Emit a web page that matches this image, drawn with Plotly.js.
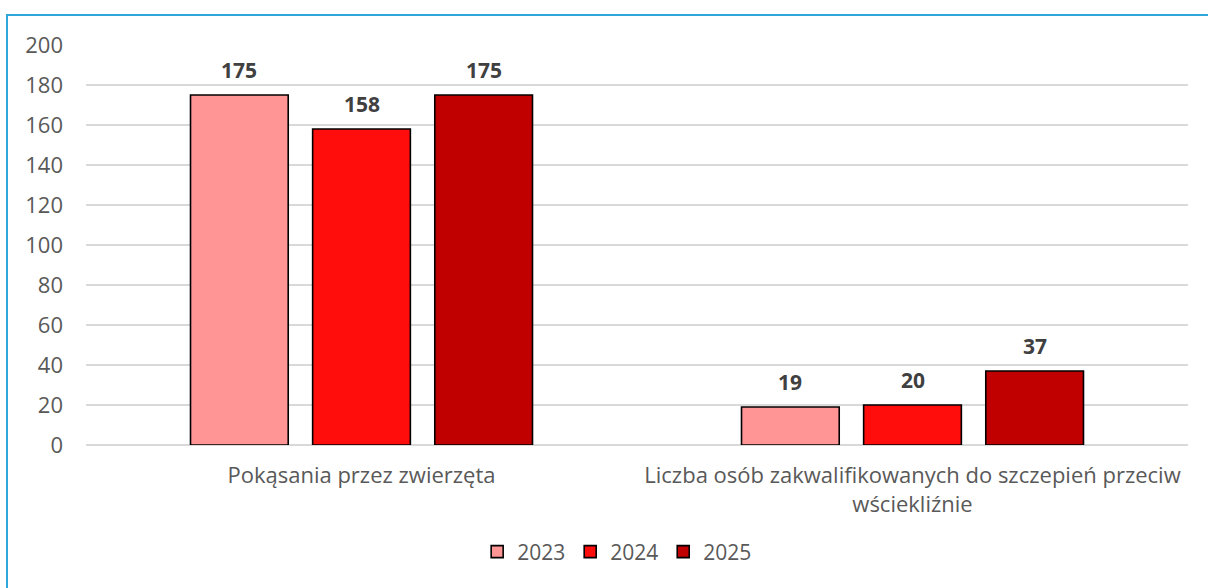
<!DOCTYPE html>
<html>
<head>
<meta charset="utf-8">
<script src="https://cdn.plot.ly/plotly-3.0.1.min.js"></script>
<style>
html,body{margin:0;padding:0;background:#fff;overflow:hidden;}
#frame{position:absolute;left:6px;top:14px;width:1300px;height:700px;border-left:2px solid #2ea7db;border-top:2px solid #2ea7db;box-sizing:border-box;}
#chart{position:absolute;left:0;top:0;width:1208px;height:588px;}
</style>
</head>
<body>
<div id="frame"></div>
<div id="chart"></div>
<script>
const categories = ["Pokąsania przez zwierzęta", "Liczba osób zakwalifikowanych do szczepień przeciw<br>wściekliźnie"];
const years = ["2023", "2024", "2025"];
const values2023 = [175, 19];
const values2024 = [158, 20];
const values2025 = [175, 37];
const colors = ["#FF9595", "#FF0D0D", "#C00000"];

const seriesValues = [values2023, values2024, values2025];
const bargap = 0.335;
const bargroupgap = 0.2;
const catIdx = categories.map((c, i) => i);
const fontFam = "'Open Sans', Roboto, sans-serif";

const traces = years.map((y, k) => ({
  type: "bar",
  name: y,
  x: catIdx,
  y: seriesValues[k],
  marker: {color: colors[k], line: {color: "#000000", width: 1.6}},
  hoverinfo: "skip"
}));

const slot = (1 - bargap) / years.length;
const annotations = [];
years.forEach((y, k) => {
  seriesValues[k].forEach((v, i) => {
    annotations.push({
      x: i + (k - (years.length - 1) / 2) * slot,
      y: v, xref: "x", yref: "y",
      text: "<b>" + v + "</b>",
      showarrow: false, yanchor: "bottom", yshift: 9,
      font: {family: fontFam, size: 21, color: "#404040"}
    });
  });
});

const layout = {
  width: 1208, height: 588,
  margin: {l: 86, r: 20, t: 45, b: 143, autoexpand: false},
  paper_bgcolor: "rgba(0,0,0,0)",
  plot_bgcolor: "rgba(0,0,0,0)",
  barmode: "group",
  bargap: bargap,
  bargroupgap: bargroupgap,
  font: {family: fontFam, size: 22, color: "#595959"},
  xaxis: {
    tickmode: "array", tickvals: catIdx, ticktext: categories,
    range: [-0.5, categories.length - 0.5],
    showgrid: false, zeroline: false, showline: false, ticks: "",
    ticklabelstandoff: 15, automargin: false,
    tickfont: {family: fontFam, size: 22, color: "#595959"}
  },
  yaxis: {
    range: [0, 200], dtick: 20,
    showgrid: true, gridcolor: "#d9d9d9", gridwidth: 1.6,
    zeroline: true, zerolinecolor: "#d9d9d9", zerolinewidth: 1.6,
    showline: false, ticks: "", automargin: false,
    ticklabelstandoff: 22,
    tickfont: {family: fontFam, size: 22, color: "#595959"}
  },
  legend: {
    orientation: "h", x: 0.482, xanchor: "center", y: -0.2675, yanchor: "middle",
    font: {family: fontFam, size: 21, color: "#595959"}, itemwidth: 30, traceorder: "normal"
  },
  annotations: annotations,
  showlegend: true
};

Plotly.newPlot("chart", traces, layout, {staticPlot: true, displayModeBar: false});
</script>
</body>
</html>
